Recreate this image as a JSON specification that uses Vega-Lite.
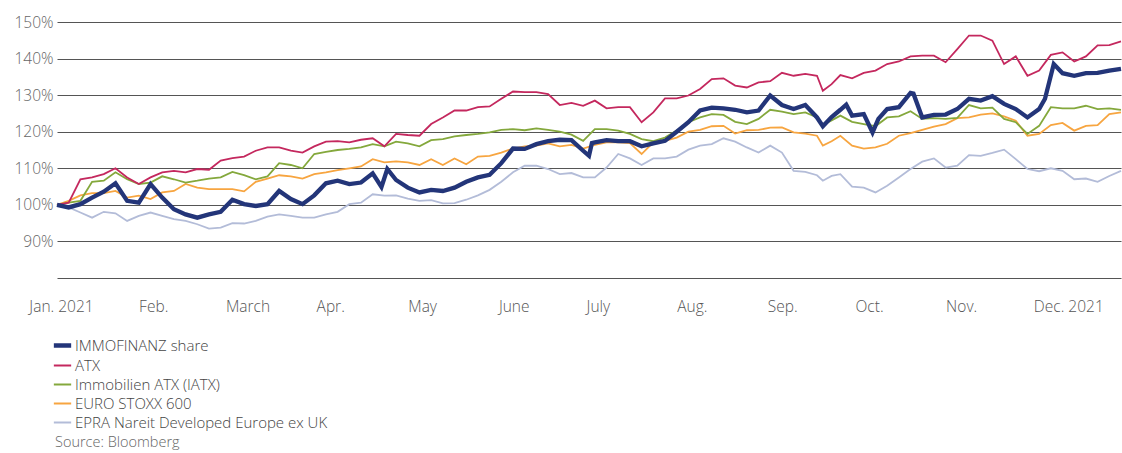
{
"$schema": "https://vega.github.io/schema/vega-lite/v6.json",
"width": 1064,
"height": 256,
"autosize": {"type": "none"},
"padding": {"left": 57, "top": 22, "right": 1, "bottom": 175},
"background": "white",
"config": {"view": {"stroke": null}, "font": "Open Sans"},
"datasets": {
"I": [
{"d":"2021-01-01","v":100},{"d":"2021-01-05","v":99.3},{"d":"2021-01-09","v":100.2},{"d":"2021-01-13","v":102},{"d":"2021-01-17","v":103.6},{"d":"2021-01-21","v":105.9},{"d":"2021-01-25","v":101.1},{"d":"2021-01-29","v":100.6},{"d":"2021-02-02","v":105.7},{"d":"2021-02-06","v":102},{"d":"2021-02-10","v":98.8},{"d":"2021-02-14","v":97.4},{"d":"2021-02-18","v":96.5},{"d":"2021-02-22","v":97.4},{"d":"2021-02-26","v":98.1},{"d":"2021-03-02","v":101.4},{"d":"2021-03-06","v":100.2},{"d":"2021-03-10","v":99.7},{"d":"2021-03-14","v":100.2},{"d":"2021-03-18","v":103.8},{"d":"2021-03-22","v":101.6},{"d":"2021-03-26","v":100.2},{"d":"2021-03-30","v":102.6},{"d":"2021-04-03","v":105.9},{"d":"2021-04-07","v":106.6},{"d":"2021-04-11","v":105.7},{"d":"2021-04-15","v":106.1},{"d":"2021-04-19","v":108.6},{"d":"2021-04-22","v":104.9},{"d":"2021-04-24","v":109.8},{"d":"2021-04-27","v":106.8},{"d":"2021-05-01","v":104.7},{"d":"2021-05-05","v":103.4},{"d":"2021-05-09","v":104.1},{"d":"2021-05-13","v":103.8},{"d":"2021-05-17","v":104.7},{"d":"2021-05-21","v":106.3},{"d":"2021-05-25","v":107.5},{"d":"2021-05-29","v":108.2},{"d":"2021-06-02","v":111.4},{"d":"2021-06-06","v":115.4},{"d":"2021-06-10","v":115.3},{"d":"2021-06-14","v":116.6},{"d":"2021-06-18","v":117.4},{"d":"2021-06-22","v":117.8},{"d":"2021-06-26","v":117.7},{"d":"2021-06-30","v":114.8},{"d":"2021-07-02","v":113.4},{"d":"2021-07-03","v":116.9},{"d":"2021-07-04","v":117.1},{"d":"2021-07-08","v":117.7},{"d":"2021-07-12","v":117.4},{"d":"2021-07-16","v":117.4},{"d":"2021-07-20","v":116},{"d":"2021-07-24","v":116.8},{"d":"2021-07-28","v":117.5},{"d":"2021-08-01","v":120},{"d":"2021-08-05","v":122.6},{"d":"2021-08-09","v":125.8},{"d":"2021-08-13","v":126.6},{"d":"2021-08-17","v":126.4},{"d":"2021-08-21","v":126},{"d":"2021-08-25","v":125.3},{"d":"2021-08-29","v":125.8},{"d":"2021-09-02","v":129.9},{"d":"2021-09-06","v":127.3},{"d":"2021-09-10","v":126.2},{"d":"2021-09-14","v":127.3},{"d":"2021-09-18","v":123.9},{"d":"2021-09-20","v":121.5},{"d":"2021-09-23","v":124},{"d":"2021-09-26","v":126},{"d":"2021-09-28","v":127.4},{"d":"2021-09-30","v":124.4},{"d":"2021-10-04","v":124.8},{"d":"2021-10-07","v":119.8},{"d":"2021-10-09","v":123.5},{"d":"2021-10-12","v":126.2},{"d":"2021-10-16","v":126.7},{"d":"2021-10-20","v":130.6},{"d":"2021-10-21","v":130.4},{"d":"2021-10-24","v":123.9},{"d":"2021-10-28","v":124.6},{"d":"2021-11-01","v":124.7},{"d":"2021-11-05","v":126.2},{"d":"2021-11-09","v":129},{"d":"2021-11-13","v":128.5},{"d":"2021-11-17","v":129.7},{"d":"2021-11-21","v":127.6},{"d":"2021-11-25","v":126.2},{"d":"2021-11-29","v":123.9},{"d":"2021-12-03","v":126.2},{"d":"2021-12-05","v":129},{"d":"2021-12-08","v":138.5},{"d":"2021-12-11","v":136},{"d":"2021-12-15","v":135.3},{"d":"2021-12-19","v":136},{"d":"2021-12-23","v":136.1},{"d":"2021-12-27","v":136.7},{"d":"2021-12-31","v":137.2}
],
"A": [
{"d":"2021-01-01","v":100},{"d":"2021-01-05","v":100.6},{"d":"2021-01-09","v":107},{"d":"2021-01-13","v":107.5},{"d":"2021-01-17","v":108.4},{"d":"2021-01-21","v":110},{"d":"2021-01-25","v":107.5},{"d":"2021-01-29","v":105.7},{"d":"2021-02-02","v":107.5},{"d":"2021-02-06","v":108.9},{"d":"2021-02-10","v":109.3},{"d":"2021-02-14","v":108.9},{"d":"2021-02-18","v":109.8},{"d":"2021-02-22","v":109.6},{"d":"2021-02-26","v":112.1},{"d":"2021-03-02","v":112.8},{"d":"2021-03-06","v":113.2},{"d":"2021-03-10","v":114.8},{"d":"2021-03-14","v":115.7},{"d":"2021-03-18","v":115.7},{"d":"2021-03-22","v":114.8},{"d":"2021-03-26","v":114.3},{"d":"2021-03-30","v":116},{"d":"2021-04-03","v":117.3},{"d":"2021-04-07","v":117.4},{"d":"2021-04-11","v":117.1},{"d":"2021-04-15","v":117.8},{"d":"2021-04-19","v":118.2},{"d":"2021-04-23","v":116},{"d":"2021-04-27","v":119.4},{"d":"2021-05-01","v":119.1},{"d":"2021-05-05","v":118.9},{"d":"2021-05-09","v":122.1},{"d":"2021-05-13","v":123.9},{"d":"2021-05-17","v":125.8},{"d":"2021-05-21","v":125.8},{"d":"2021-05-25","v":126.7},{"d":"2021-05-29","v":126.9},{"d":"2021-06-02","v":129},{"d":"2021-06-06","v":131},{"d":"2021-06-10","v":130.8},{"d":"2021-06-14","v":130.8},{"d":"2021-06-18","v":130.3},{"d":"2021-06-22","v":127.3},{"d":"2021-06-26","v":127.9},{"d":"2021-06-30","v":127.1},{"d":"2021-07-04","v":128.5},{"d":"2021-07-08","v":126.4},{"d":"2021-07-12","v":126.7},{"d":"2021-07-16","v":126.7},{"d":"2021-07-20","v":122.6},{"d":"2021-07-24","v":125.3},{"d":"2021-07-28","v":129.1},{"d":"2021-08-01","v":129.1},{"d":"2021-08-05","v":129.9},{"d":"2021-08-09","v":131.7},{"d":"2021-08-13","v":134.4},{"d":"2021-08-17","v":134.6},{"d":"2021-08-21","v":132.6},{"d":"2021-08-25","v":132.1},{"d":"2021-08-29","v":133.5},{"d":"2021-09-02","v":133.8},{"d":"2021-09-06","v":136.1},{"d":"2021-09-10","v":135.3},{"d":"2021-09-14","v":135.8},{"d":"2021-09-18","v":135.3},{"d":"2021-09-20","v":131.2},{"d":"2021-09-23","v":133},{"d":"2021-09-26","v":135.5},{"d":"2021-09-30","v":134.6},{"d":"2021-10-04","v":136.1},{"d":"2021-10-08","v":136.7},{"d":"2021-10-12","v":138.5},{"d":"2021-10-16","v":139.2},{"d":"2021-10-20","v":140.6},{"d":"2021-10-24","v":140.8},{"d":"2021-10-28","v":140.8},{"d":"2021-11-01","v":139},{"d":"2021-11-05","v":142.6},{"d":"2021-11-09","v":146.3},{"d":"2021-11-13","v":146.3},{"d":"2021-11-17","v":144.9},{"d":"2021-11-21","v":138.5},{"d":"2021-11-25","v":140.6},{"d":"2021-11-29","v":135.3},{"d":"2021-12-03","v":136.7},{"d":"2021-12-07","v":141},{"d":"2021-12-11","v":141.7},{"d":"2021-12-15","v":139.2},{"d":"2021-12-19","v":140.6},{"d":"2021-12-23","v":143.6},{"d":"2021-12-27","v":143.7},{"d":"2021-12-31","v":144.7}
],
"G": [
{"d":"2021-01-01","v":100},{"d":"2021-01-05","v":100.6},{"d":"2021-01-09","v":101.1},{"d":"2021-01-13","v":106.3},{"d":"2021-01-17","v":106.6},{"d":"2021-01-21","v":108.9},{"d":"2021-01-25","v":107},{"d":"2021-01-29","v":105.7},{"d":"2021-02-02","v":106.1},{"d":"2021-02-06","v":107.8},{"d":"2021-02-10","v":107},{"d":"2021-02-14","v":106.1},{"d":"2021-02-18","v":106.6},{"d":"2021-02-22","v":107.2},{"d":"2021-02-26","v":107.5},{"d":"2021-03-02","v":109},{"d":"2021-03-06","v":108.1},{"d":"2021-03-10","v":107},{"d":"2021-03-14","v":107.8},{"d":"2021-03-18","v":111.4},{"d":"2021-03-22","v":110.9},{"d":"2021-03-26","v":110},{"d":"2021-03-30","v":113.9},{"d":"2021-04-03","v":114.5},{"d":"2021-04-07","v":115},{"d":"2021-04-11","v":115.3},{"d":"2021-04-15","v":115.7},{"d":"2021-04-19","v":116.6},{"d":"2021-04-23","v":116},{"d":"2021-04-27","v":117.3},{"d":"2021-05-01","v":116.8},{"d":"2021-05-05","v":116},{"d":"2021-05-09","v":117.7},{"d":"2021-05-13","v":118},{"d":"2021-05-17","v":118.7},{"d":"2021-05-21","v":119.1},{"d":"2021-05-25","v":119.4},{"d":"2021-05-29","v":119.8},{"d":"2021-06-02","v":120.5},{"d":"2021-06-06","v":120.7},{"d":"2021-06-10","v":120.4},{"d":"2021-06-14","v":120.9},{"d":"2021-06-18","v":120.5},{"d":"2021-06-22","v":120},{"d":"2021-06-26","v":119.2},{"d":"2021-06-30","v":117.5},{"d":"2021-07-04","v":120.7},{"d":"2021-07-08","v":120.7},{"d":"2021-07-12","v":120.3},{"d":"2021-07-16","v":119.4},{"d":"2021-07-20","v":118},{"d":"2021-07-24","v":117.4},{"d":"2021-07-28","v":118.4},{"d":"2021-08-01","v":120.3},{"d":"2021-08-05","v":122.6},{"d":"2021-08-09","v":123.9},{"d":"2021-08-13","v":124.8},{"d":"2021-08-17","v":124.6},{"d":"2021-08-21","v":122.7},{"d":"2021-08-25","v":122.1},{"d":"2021-08-29","v":123.5},{"d":"2021-09-02","v":126},{"d":"2021-09-06","v":125.5},{"d":"2021-09-10","v":124.8},{"d":"2021-09-14","v":125.3},{"d":"2021-09-18","v":123.9},{"d":"2021-09-20","v":121.9},{"d":"2021-09-23","v":123.1},{"d":"2021-09-26","v":124.4},{"d":"2021-09-30","v":122.7},{"d":"2021-10-04","v":122.1},{"d":"2021-10-08","v":121.5},{"d":"2021-10-12","v":123.9},{"d":"2021-10-16","v":124.2},{"d":"2021-10-20","v":125.6},{"d":"2021-10-24","v":123.5},{"d":"2021-10-28","v":123.7},{"d":"2021-11-01","v":123.5},{"d":"2021-11-05","v":123.8},{"d":"2021-11-09","v":127.3},{"d":"2021-11-13","v":126.4},{"d":"2021-11-17","v":126.6},{"d":"2021-11-21","v":123.5},{"d":"2021-11-25","v":122.6},{"d":"2021-11-29","v":119.4},{"d":"2021-12-03","v":121.6},{"d":"2021-12-07","v":126.7},{"d":"2021-12-11","v":126.4},{"d":"2021-12-15","v":126.4},{"d":"2021-12-19","v":127.1},{"d":"2021-12-23","v":126.2},{"d":"2021-12-27","v":126.4},{"d":"2021-12-31","v":126}
],
"E": [
{"d":"2021-01-01","v":100},{"d":"2021-01-05","v":101.1},{"d":"2021-01-09","v":102.6},{"d":"2021-01-13","v":103.2},{"d":"2021-01-17","v":103.2},{"d":"2021-01-21","v":103.8},{"d":"2021-01-25","v":102},{"d":"2021-01-29","v":102.5},{"d":"2021-02-02","v":101.6},{"d":"2021-02-06","v":103.4},{"d":"2021-02-10","v":103.8},{"d":"2021-02-14","v":105.7},{"d":"2021-02-18","v":104.7},{"d":"2021-02-22","v":104.3},{"d":"2021-02-26","v":104.3},{"d":"2021-03-02","v":104.3},{"d":"2021-03-06","v":103.7},{"d":"2021-03-10","v":106.3},{"d":"2021-03-14","v":107.2},{"d":"2021-03-18","v":108.1},{"d":"2021-03-22","v":107.8},{"d":"2021-03-26","v":107.2},{"d":"2021-03-30","v":108.4},{"d":"2021-04-03","v":108.9},{"d":"2021-04-07","v":109.5},{"d":"2021-04-11","v":110},{"d":"2021-04-15","v":110.5},{"d":"2021-04-19","v":112.5},{"d":"2021-04-23","v":111.6},{"d":"2021-04-27","v":111.9},{"d":"2021-05-01","v":111.6},{"d":"2021-05-05","v":110.9},{"d":"2021-05-09","v":112.5},{"d":"2021-05-13","v":110.9},{"d":"2021-05-17","v":112.7},{"d":"2021-05-21","v":111.1},{"d":"2021-05-25","v":113.2},{"d":"2021-05-29","v":113.4},{"d":"2021-06-02","v":114.3},{"d":"2021-06-06","v":115.4},{"d":"2021-06-10","v":116},{"d":"2021-06-14","v":116.2},{"d":"2021-06-18","v":116.8},{"d":"2021-06-22","v":116},{"d":"2021-06-26","v":116.4},{"d":"2021-06-30","v":115.4},{"d":"2021-07-04","v":116.4},{"d":"2021-07-08","v":117.1},{"d":"2021-07-12","v":117.1},{"d":"2021-07-16","v":116.9},{"d":"2021-07-20","v":113.9},{"d":"2021-07-24","v":117.1},{"d":"2021-07-28","v":117.5},{"d":"2021-08-01","v":118.4},{"d":"2021-08-05","v":120},{"d":"2021-08-09","v":120.5},{"d":"2021-08-13","v":121.5},{"d":"2021-08-17","v":121.6},{"d":"2021-08-21","v":119.5},{"d":"2021-08-25","v":120.4},{"d":"2021-08-29","v":120.5},{"d":"2021-09-02","v":121.1},{"d":"2021-09-06","v":121.2},{"d":"2021-09-10","v":119.8},{"d":"2021-09-14","v":119.5},{"d":"2021-09-18","v":118.9},{"d":"2021-09-20","v":116.2},{"d":"2021-09-23","v":117.4},{"d":"2021-09-26","v":118.9},{"d":"2021-09-30","v":116.2},{"d":"2021-10-04","v":115.4},{"d":"2021-10-08","v":115.7},{"d":"2021-10-12","v":116.7},{"d":"2021-10-16","v":118.9},{"d":"2021-10-20","v":119.6},{"d":"2021-10-24","v":120.5},{"d":"2021-10-28","v":121.4},{"d":"2021-11-01","v":122.1},{"d":"2021-11-05","v":123.7},{"d":"2021-11-09","v":123.9},{"d":"2021-11-13","v":124.7},{"d":"2021-11-17","v":125},{"d":"2021-11-21","v":124.2},{"d":"2021-11-25","v":123},{"d":"2021-11-29","v":118.9},{"d":"2021-12-03","v":119.4},{"d":"2021-12-07","v":121.8},{"d":"2021-12-11","v":122.4},{"d":"2021-12-15","v":120.3},{"d":"2021-12-19","v":121.6},{"d":"2021-12-23","v":121.8},{"d":"2021-12-27","v":124.8},{"d":"2021-12-31","v":125.3}
],
"P": [
{"d":"2021-01-01","v":100},{"d":"2021-01-05","v":99.3},{"d":"2021-01-09","v":97.9},{"d":"2021-01-13","v":96.5},{"d":"2021-01-17","v":98.1},{"d":"2021-01-21","v":97.7},{"d":"2021-01-25","v":95.6},{"d":"2021-01-29","v":97},{"d":"2021-02-02","v":97.9},{"d":"2021-02-06","v":97},{"d":"2021-02-10","v":96.1},{"d":"2021-02-14","v":95.6},{"d":"2021-02-18","v":94.7},{"d":"2021-02-22","v":93.5},{"d":"2021-02-26","v":93.8},{"d":"2021-03-02","v":95},{"d":"2021-03-06","v":94.9},{"d":"2021-03-10","v":95.6},{"d":"2021-03-14","v":96.8},{"d":"2021-03-18","v":97.4},{"d":"2021-03-22","v":97},{"d":"2021-03-26","v":96.5},{"d":"2021-03-30","v":96.5},{"d":"2021-04-03","v":97.4},{"d":"2021-04-07","v":98.1},{"d":"2021-04-11","v":100.2},{"d":"2021-04-15","v":100.6},{"d":"2021-04-19","v":102.9},{"d":"2021-04-23","v":102.5},{"d":"2021-04-27","v":102.6},{"d":"2021-05-01","v":101.7},{"d":"2021-05-05","v":101.1},{"d":"2021-05-09","v":101.3},{"d":"2021-05-13","v":100.4},{"d":"2021-05-17","v":100.5},{"d":"2021-05-21","v":101.4},{"d":"2021-05-25","v":102.6},{"d":"2021-05-29","v":104.1},{"d":"2021-06-02","v":106.3},{"d":"2021-06-06","v":108.9},{"d":"2021-06-10","v":110.7},{"d":"2021-06-14","v":110.7},{"d":"2021-06-18","v":109.8},{"d":"2021-06-22","v":108.4},{"d":"2021-06-26","v":108.7},{"d":"2021-06-30","v":107.5},{"d":"2021-07-04","v":107.5},{"d":"2021-07-08","v":110.2},{"d":"2021-07-12","v":113.9},{"d":"2021-07-16","v":112.7},{"d":"2021-07-20","v":110.9},{"d":"2021-07-24","v":112.7},{"d":"2021-07-28","v":112.7},{"d":"2021-08-01","v":113.2},{"d":"2021-08-05","v":115.1},{"d":"2021-08-09","v":116.2},{"d":"2021-08-13","v":116.6},{"d":"2021-08-17","v":118.2},{"d":"2021-08-21","v":117.3},{"d":"2021-08-25","v":115.7},{"d":"2021-08-29","v":114.3},{"d":"2021-09-02","v":116.2},{"d":"2021-09-06","v":114.3},{"d":"2021-09-10","v":109.3},{"d":"2021-09-14","v":109},{"d":"2021-09-18","v":108.1},{"d":"2021-09-20","v":106.6},{"d":"2021-09-23","v":107.9},{"d":"2021-09-26","v":108.4},{"d":"2021-09-30","v":105},{"d":"2021-10-04","v":104.7},{"d":"2021-10-08","v":103.4},{"d":"2021-10-12","v":105.2},{"d":"2021-10-16","v":107.5},{"d":"2021-10-20","v":109.8},{"d":"2021-10-24","v":111.8},{"d":"2021-10-28","v":112.7},{"d":"2021-11-01","v":110.2},{"d":"2021-11-05","v":110.7},{"d":"2021-11-09","v":113.6},{"d":"2021-11-13","v":113.4},{"d":"2021-11-17","v":114.2},{"d":"2021-11-21","v":115.1},{"d":"2021-11-25","v":112.5},{"d":"2021-11-29","v":109.8},{"d":"2021-12-03","v":109.2},{"d":"2021-12-07","v":110},{"d":"2021-12-11","v":109.3},{"d":"2021-12-15","v":107},{"d":"2021-12-19","v":107.2},{"d":"2021-12-23","v":106.3},{"d":"2021-12-27","v":107.9},{"d":"2021-12-31","v":109.3}
]
},
"encoding": {
"x": {"field": "d", "type": "temporal", "title": null,
"scale": {"type": "utc", "domain": [{"year": 2021, "month": 1, "date": 1, "utc": true}, {"year": 2021, "month": 12, "date": 31, "utc": true}]},
"axis": {"values": [{"year": 2021, "month": 1, "date": 1, "utc": true},{"year": 2021, "month": 2, "date": 1, "utc": true},{"year": 2021, "month": 3, "date": 1, "utc": true},{"year": 2021, "month": 4, "date": 1, "utc": true},{"year": 2021, "month": 5, "date": 1, "utc": true},{"year": 2021, "month": 6, "date": 1, "utc": true},{"year": 2021, "month": 7, "date": 1, "utc": true},{"year": 2021, "month": 8, "date": 1, "utc": true},{"year": 2021, "month": 9, "date": 1, "utc": true},{"year": 2021, "month": 10, "date": 1, "utc": true},{"year": 2021, "month": 11, "date": 1, "utc": true},{"year": 2021, "month": 12, "date": 1, "utc": true}],
"labelExpr": "['Jan. 2021','Feb.','March','Apr.','May','June','July','Aug.','Sep.','Oct.','Nov.','Dec. 2021'][utcmonth(datum.value)]",
"labelAlign": {"condition": {"test": "utcmonth(datum.value) == 0", "value": "center"}, "value": "left"},
"labelOffset": {"condition": [{"test": "utcmonth(datum.value) == 0", "value": 4}, {"test": "utcmonth(datum.value) == 1", "value": -9}, {"test": "utcmonth(datum.value) == 2 || utcmonth(datum.value) == 3", "value": -4}], "value": 0},
"grid": false, "domain": false, "ticks": false, "labelPadding": 21, "labelFontSize": 15.5, "labelFontWeight": 300, "labelColor": "#555", "labelFont": "Open Sans", "labelOverlap": false, "labelFlush": false, "labelBound": false}},
"y": {"field": "v", "type": "quantitative", "title": null,
"scale": {"domain": [80, 150], "nice": false, "zero": false},
"axis": {"values": [80, 90, 100, 110, 120, 130, 140, 150], "labelExpr": "datum.value == 80 ? '' : datum.value + '%'", "grid": true, "gridColor": "#555", "gridWidth": 1.2, "domain": false, "ticks": false, "labelPadding": 4, "labelFontSize": 15.5, "labelFontWeight": 300, "labelColor": "#666", "labelFont": "Open Sans"}}
},
"layer": [
{"data": {"name": "P"}, "mark": {"type": "line", "strokeWidth": 1.8},
 "encoding": {"color": {"datum": "EPRA Nareit Developed Europe ex UK", "type": "nominal",
  "scale": {"domain": ["IMMOFINANZ share", "ATX", "Immobilien ATX (IATX)", "EURO STOXX 600", "EPRA Nareit Developed Europe ex UK"], "range": ["#233579", "#c4285e", "#84a83c", "#f7a540", "#b3bcd8"]},
  "legend": {"orient": "none", "legendX": -2, "legendY": 316, "direction": "vertical", "title": "Source: Bloomberg", "titleOrient": "bottom", "titleAnchor": "start", "titleAlign": "left", "titleFontWeight": 300, "titleFontSize": 14.5, "titleColor": "#666", "titleFont": "Open Sans", "titlePadding": 5, "labelFontSize": 15, "labelFontWeight": 300, "labelColor": "#444", "labelFont": "Open Sans", "symbolType": "stroke", "symbolSize": 300, "symbolStrokeWidth": 2, "rowPadding": 3, "labelOffset": 5, "padding": 0, "labelLimit": 600,
   "encode": {"symbols": {"update": {"strokeWidth": {"signal": "datum.value === 'IMMOFINANZ share' ? 4.5 : 2"}}}}}}}},
{"data": {"name": "E"}, "mark": {"type": "line", "strokeWidth": 1.8},
 "encoding": {"color": {"datum": "EURO STOXX 600", "type": "nominal",
  "scale": {"domain": ["IMMOFINANZ share", "ATX", "Immobilien ATX (IATX)", "EURO STOXX 600", "EPRA Nareit Developed Europe ex UK"], "range": ["#233579", "#c4285e", "#84a83c", "#f7a540", "#b3bcd8"]}}}},
{"data": {"name": "G"}, "mark": {"type": "line", "strokeWidth": 1.8},
 "encoding": {"color": {"datum": "Immobilien ATX (IATX)", "type": "nominal",
  "scale": {"domain": ["IMMOFINANZ share", "ATX", "Immobilien ATX (IATX)", "EURO STOXX 600", "EPRA Nareit Developed Europe ex UK"], "range": ["#233579", "#c4285e", "#84a83c", "#f7a540", "#b3bcd8"]}}}},
{"data": {"name": "A"}, "mark": {"type": "line", "strokeWidth": 1.8},
 "encoding": {"color": {"datum": "ATX", "type": "nominal",
  "scale": {"domain": ["IMMOFINANZ share", "ATX", "Immobilien ATX (IATX)", "EURO STOXX 600", "EPRA Nareit Developed Europe ex UK"], "range": ["#233579", "#c4285e", "#84a83c", "#f7a540", "#b3bcd8"]}}}},
{"data": {"name": "I"}, "mark": {"type": "line", "strokeWidth": 4.3},
 "encoding": {"color": {"datum": "IMMOFINANZ share", "type": "nominal",
  "scale": {"domain": ["IMMOFINANZ share", "ATX", "Immobilien ATX (IATX)", "EURO STOXX 600", "EPRA Nareit Developed Europe ex UK"], "range": ["#233579", "#c4285e", "#84a83c", "#f7a540", "#b3bcd8"]}}}}
]
}
